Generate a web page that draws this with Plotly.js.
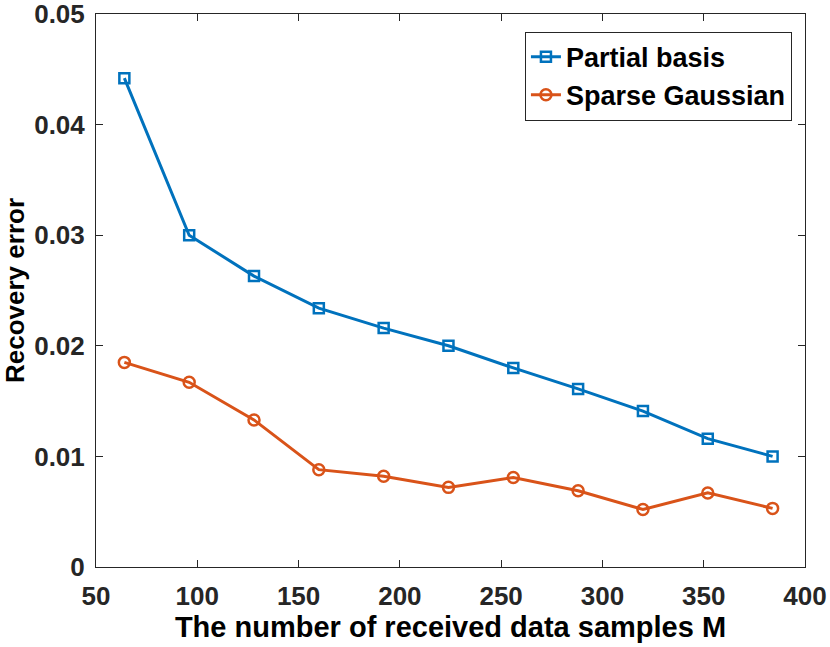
<!DOCTYPE html>
<html>
<head>
<meta charset="utf-8">
<script src="https://cdn.plot.ly/plotly-3.0.1.min.js"></script>
<style>
  html, body { margin: 0; padding: 0; background: #fff; }
  #chart { width: 830px; height: 647px; }
</style>
</head>
<body>
<div id="chart"></div>
<script>
const samples = [64, 96, 128, 160, 192, 224, 256, 288, 320, 352, 384];
const partialBasis = [0.0442, 0.0300, 0.0263, 0.0234, 0.0216, 0.0200, 0.0180, 0.0161, 0.0141, 0.0116, 0.0100];
const sparseGaussian = [0.0185, 0.0167, 0.0133, 0.0088, 0.0082, 0.0072, 0.0081, 0.0069, 0.0052, 0.0067, 0.0053];
const xTicks = [50, 100, 150, 200, 250, 300, 350, 400];
const yTicks = [0, 0.01, 0.02, 0.03, 0.04, 0.05];
const yTickText = ['0', '0.01', '0.02', '0.03', '0.04', '0.05'];

const FONT = 'Liberation Sans, Arial, Helvetica, sans-serif';
const AXIS_COLOR = '#262626';

const data = [
  {
    x: samples,
    y: partialBasis,
    name: 'Partial basis',
    type: 'scatter',
    mode: 'lines+markers',
    line: { color: '#0072BD', width: 3 },
    marker: { symbol: 'square-open', size: 10, color: '#0072BD', line: { width: 2.5 } },
  },
  {
    x: samples,
    y: sparseGaussian,
    name: 'Sparse Gaussian',
    type: 'scatter',
    mode: 'lines+markers',
    line: { color: '#D95319', width: 3 },
    marker: { symbol: 'circle-open', size: 11, color: '#D95319', line: { width: 2.5 } },
  },
];

const axisBase = {
  showgrid: false,
  zeroline: false,
  showline: true,
  linecolor: AXIS_COLOR,
  linewidth: 1,
  mirror: 'ticks',
  ticks: 'inside',
  ticklen: 7,
  tickwidth: 1,
  tickcolor: AXIS_COLOR,
  ticklabeloverflow: 'allow',
  tickfont: { family: FONT, size: 26, color: AXIS_COLOR, weight: 'bold' },
};

const layout = {
  width: 830,
  height: 647,
  margin: { l: 96, r: 25, t: 14, b: 80 },
  paper_bgcolor: '#fff',
  plot_bgcolor: '#fff',
  font: { family: FONT, color: '#000' },
  showlegend: true,
  legend: {
    x: 0.605,
    y: 0.968,
    xanchor: 'left',
    yanchor: 'top',
    bgcolor: '#fff',
    bordercolor: AXIS_COLOR,
    borderwidth: 1,
    font: { family: FONT, size: 27, color: '#000', weight: 'bold' },
    tracegroupgap: 0,
    itemwidth: 30,
  },
  xaxis: {
    ...axisBase,
    range: [50, 400],
    tickvals: xTicks,
    ticktext: xTicks.map(String),
    ticklabelstandoff: 6,
    title: { text: 'The number of received data samples M', font: { family: FONT, size: 29, color: '#000', weight: 'bold' }, standoff: 5 },
  },
  yaxis: {
    ...axisBase,
    range: [0, 0.0500001],
    tickvals: yTicks,
    ticktext: yTickText,
    ticklabelstandoff: 5,
    title: { text: 'Recovery error', font: { family: FONT, size: 26, color: '#000', weight: 'bold' }, standoff: 6 },
  },
};

Plotly.newPlot('chart', data, layout, { displayModeBar: false, responsive: false });
</script>
</body>
</html>
